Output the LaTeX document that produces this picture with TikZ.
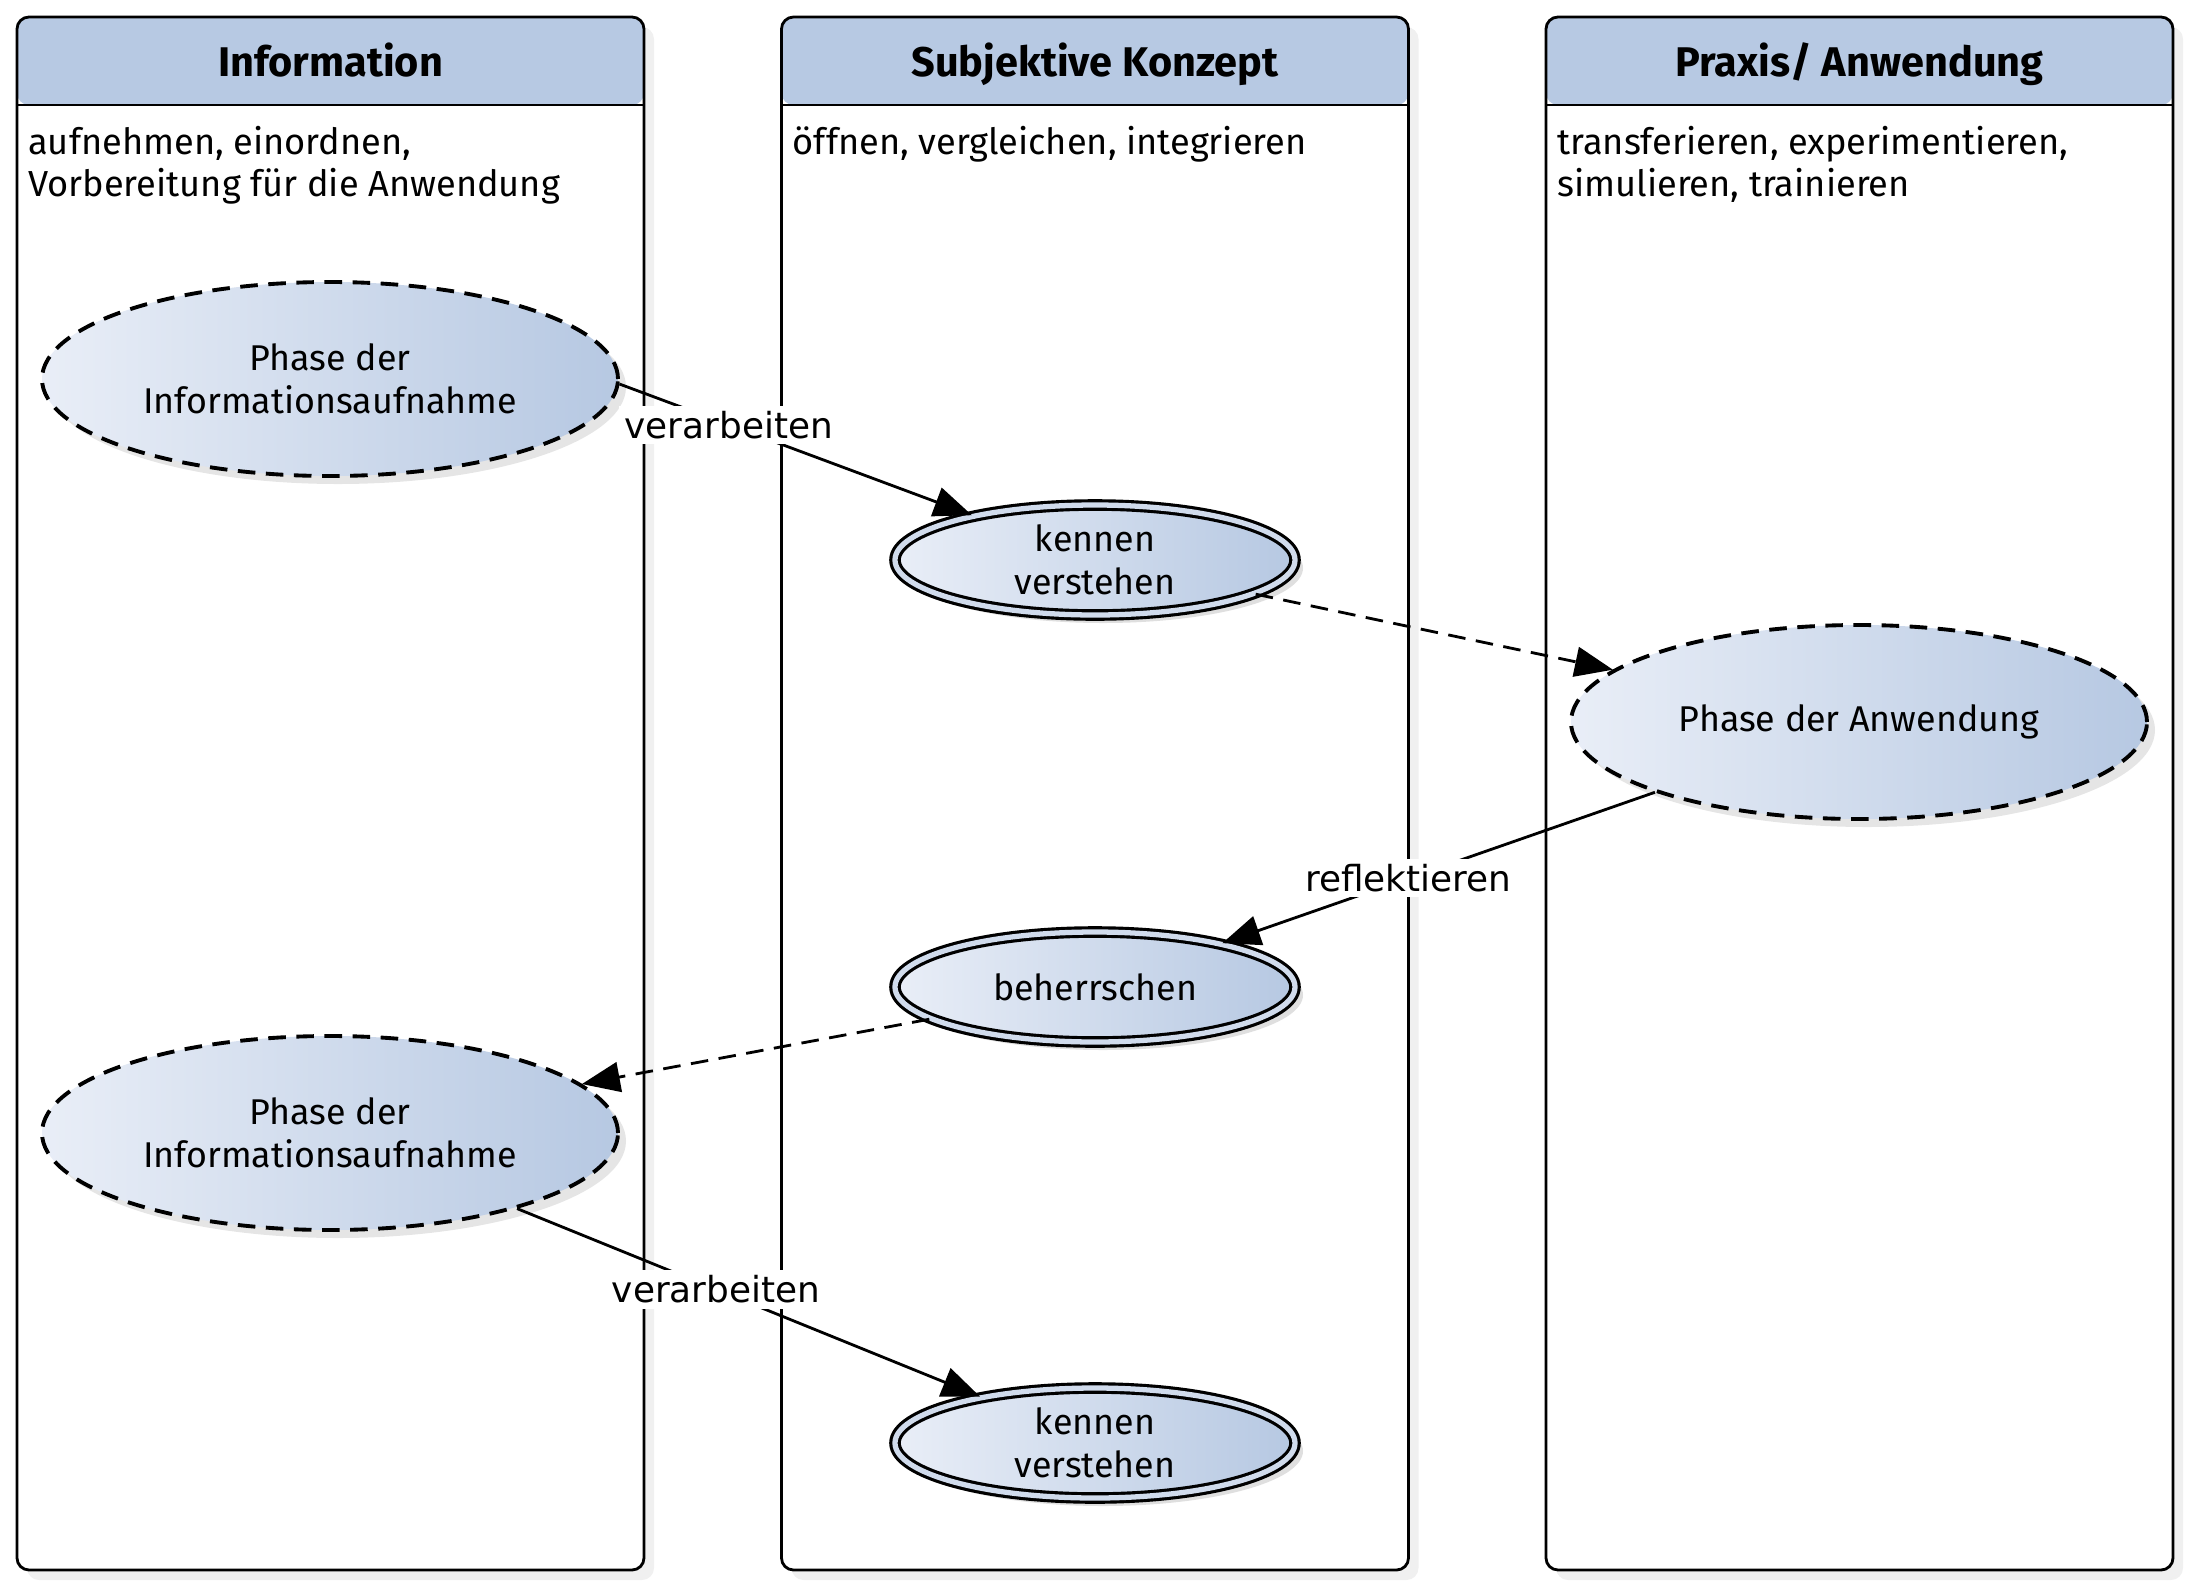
\documentclass[tikz,border=0pt]{standalone}
\usepackage{fontspec}
\setmainfont{Fira Sans}
\newfontfamily\lblfont{DejaVu Sans}
\usetikzlibrary{shapes.geometric, arrows.meta, positioning, shadows}
\definecolor{headblue}{HTML}{B7C9E3}
\definecolor{lightblue}{HTML}{E9EEF7}
\definecolor{midblue}{HTML}{B6C8E2}

\begin{document}
\begin{tikzpicture}
		\tikzstyle{Lane} = [rectangle, rounded corners=0.12cm, draw=black, thick, fill=white, minimum width=6.27cm, minimum height=15.53cm, inner sep=0pt,
			drop shadow={opacity=0.12, shadow xshift=0.1cm, shadow yshift=-0.1cm},
			path picture={\fill[headblue] (path picture bounding box.north west) rectangle ([yshift=-0.88cm]path picture bounding box.north east);
				\draw[thick] ([yshift=-0.88cm]path picture bounding box.north west) -- ([yshift=-0.88cm]path picture bounding box.north east);}]
		\tikzstyle{Head} = [minimum height=0.84cm, inner sep=0pt, text height=1.6ex, text depth=0.45ex, font=\fontsize{11.8}{14}\selectfont\bfseries]
		\tikzstyle{Desc} = [align=left, inner sep=0.12cm, font=\fontsize{10.3}{11.9}\selectfont]
		\tikzstyle{Phase} = [ellipse, draw=black, line width=1.1pt, dash pattern=on 5pt off 3pt, left color=lightblue, right color=midblue, minimum width=5.76cm, minimum height=1.94cm, inner sep=0pt, align=center, font=\fontsize{10.2}{12.2}\selectfont,
			drop shadow={opacity=0.2, shadow xshift=0.08cm, shadow yshift=-0.08cm}]
		\tikzstyle{Goal} = [ellipse, draw=black, line width=0.9pt, double=lightblue!50!midblue, double distance=1.5pt, left color=lightblue, right color=midblue, minimum width=4.00cm, minimum height=1.10cm, inner xsep=0pt, inner ysep=-1pt, align=center, font=\fontsize{10.2}{12.2}\selectfont,
			drop shadow={opacity=0.25, shadow xshift=0.08cm, shadow yshift=-0.08cm}]
		\tikzstyle{Lbl} = [fill=white, inner sep=1.5pt, font=\lblfont\fontsize{10.2}{12}\selectfont]
		\tikzstyle{arrow} = [thick, ->, >={Triangle[length=0.38cm, width=0.3cm]}]
		\tikzstyle{dasharrow} = [arrow, dash pattern=on 5pt off 3pt]
		
		\useasboundingbox (0,0) rectangle (21.90,-15.87);
		
		\node (lane1) [Lane] at (3.305,-7.935) {};
		\node (lane2) [Lane] at (10.95,-7.935) {};
		\node (lane3) [Lane] at (18.595,-7.935) {};
		
		\node (head1) [Head, below=0.08cm of lane1.north] {Information};
		\node (head2) [Head, below=0.08cm of lane2.north] {Subjektive Konzept};
		\node (head3) [Head, below=0.08cm of lane3.north] {Praxis/ Anwendung};
		
		\node (desc1) [Desc, below right=0.98cm and 0cm of lane1.north west] {aufnehmen, einordnen,\\Vorbereitung für die Anwendung};
		\node (desc2) [Desc, below right=0.98cm and 0cm of lane2.north west] {öffnen, vergleichen, integrieren};
		\node (desc3) [Desc, below right=0.98cm and 0cm of lane3.north west] {transferieren, experimentieren,\\simulieren, trainieren};
		
		\node (info1) [Phase] at (3.30,-3.79) {Phase der\\Informationsaufnahme};
		\node (know1) [Goal] at (10.95,-5.60) {kennen\\verstehen};
		\node (apply) [Phase] at (18.59,-7.22) {Phase der Anwendung};
		\node (master) [Goal] at (10.95,-9.87) {beherrschen};
		\node (info2) [Phase] at (3.30,-11.33) {Phase der\\Informationsaufnahme};
		\node (know2) [Goal] at (10.95,-14.43) {kennen\\verstehen};
		
		\draw [arrow] (info1.-1) -- node [Lbl, pos=0.31] {verarbeiten} (know1.160);
		\draw [dasharrow] (know1.-12) -- (apply.168);
		\draw [arrow] (apply.-161) -- node [Lbl, pos=0.57] {reflektieren} (master.19);
		\draw [dasharrow] (master.-169) -- (info2.11);
		\draw [arrow] (info2.-22) -- node [Lbl, pos=0.43] {verarbeiten} (know2.158);
\end{tikzpicture}
\end{document}
